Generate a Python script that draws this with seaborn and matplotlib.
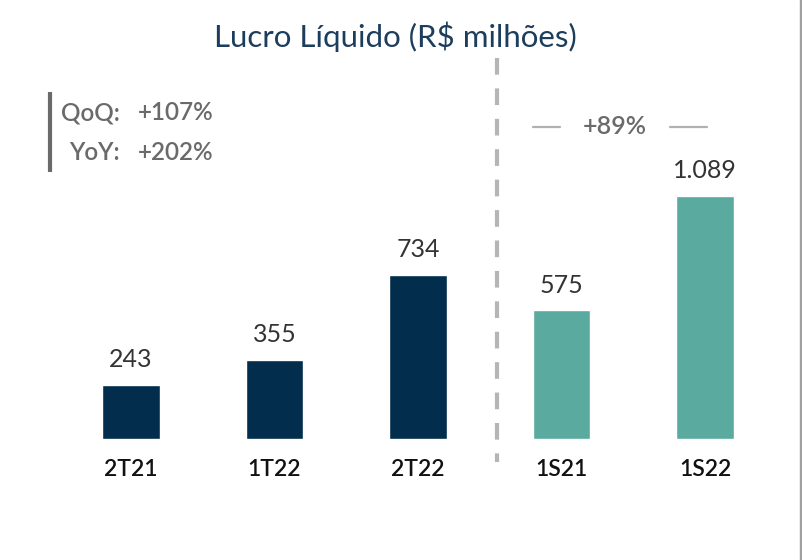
import matplotlib
matplotlib.use("Agg")
from matplotlib import pyplot as plt
from matplotlib.patches import Rectangle
import seaborn as sns
import pandas as pd

categories = ["2T21", "1T22", "2T22", "1S21", "1S22"]
values = [243, 355, 734, 575, 1089]
value_labels = ["243", "355", "734", "575", "1.089"]
groups = ["trim", "trim", "trim", "sem", "sem"]

NAVY = "#022d4c"
TEAL = "#5aaa9f"
GRAY = "#6a6a6a"

sns.set_theme(style="white")
plt.rcParams["font.family"] = ["Lato", "DejaVu Sans"]

df = pd.DataFrame({"cat": categories, "val": values, "grp": groups})

fig = plt.figure(figsize=(8.03, 5.60), dpi=100)
ax = fig.add_axes([0, 0, 1, 1])

# pixel -> data helpers (reference layout)
PX_X = 143.5
PX_Y = 0.2235
X0, Y0 = 131, 439


def dx(px):
    return (px - X0) / PX_X


def dy(py):
    return (Y0 - py) / PX_Y


sns.barplot(data=df, x="cat", y="val", hue="grp", palette={"trim": NAVY, "sem": TEAL},
            width=0.4, dodge=False, legend=False, ax=ax, saturation=1)

ax.set_xlim(dx(0), dx(803))
ax.set_ylim(dy(560), dy(0))
ax.axis("off")

for i, (v, lab) in enumerate(zip(values, value_labels)):
    ax.text(i, v + 25 / PX_Y, lab, ha="center", va="center", fontsize=18,
            color="#333333", fontweight="normal")
    ax.text(i, dy(469), categories[i], ha="center", va="center", fontsize=16.5,
            color="#111111", fontweight="semibold")

# title
ax.text(dx(395), dy(37), "Lucro Líquido (R$ milhões)", ha="center", va="center",
        fontsize=22.5, color="#1d3d5c", fontweight="normal")

# separator
ax.plot([dx(497), dx(497)], [dy(58), dy(462)], color="#b5b5b5", lw=3,
        dashes=(4, 3.3))

# QoQ / YoY box
ax.plot([dx(50), dx(50)], [dy(92), dy(172)], color=GRAY, lw=3, solid_capstyle="butt")
for row_y, name, pct in [(113, "QoQ:", "+107%"), (153, "YoY:", "+202%")]:
    ax.text(dx(120), dy(row_y), name, ha="right", va="center", fontsize=17.5,
            color=GRAY, fontweight="semibold")
    ax.text(dx(138), dy(row_y), pct, ha="left", va="center", fontsize=17.5,
            color=GRAY, fontweight="semibold")

# semester growth
ax.text(dx(615), dy(127), "+89%", ha="center", va="center", fontsize=18, color=GRAY,
        fontweight="semibold")
ax.plot([dx(533), dx(560)], [dy(127), dy(127)], color="#b0b0b0", lw=1.6)
ax.plot([dx(670), dx(707)], [dy(127), dy(127)], color="#b0b0b0", lw=1.6)

# card edge shadow
fig.patches.append(Rectangle((800 / 803, 0), 3 / 803, 1, transform=fig.transFigure,
                             color="#a0a0a0", zorder=0))

fig.savefig("out.png", dpi=100)
